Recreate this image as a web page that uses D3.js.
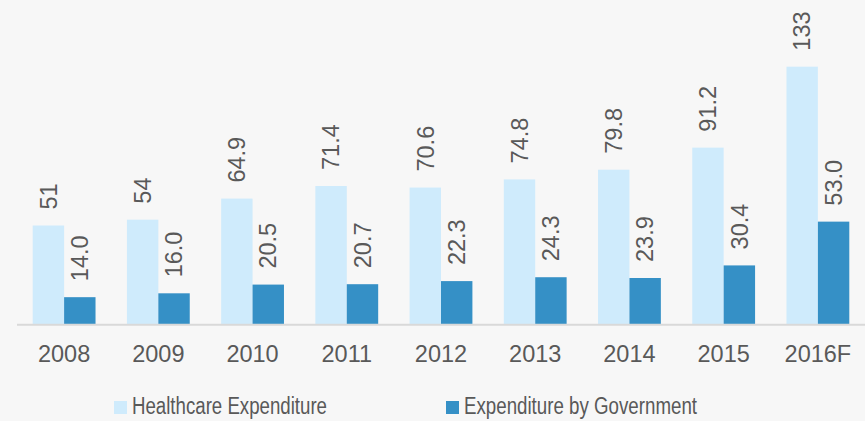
<!DOCTYPE html>
<html><head><meta charset="utf-8">
<script src="https://cdn.jsdelivr.net/npm/d3@7"></script>
<style>
html,body{margin:0;padding:0;background:#f7f7f7;}
svg{display:block;font-family:"Liberation Sans",Arial,Helvetica,sans-serif;}
</style></head>
<body><svg id="c" width="865" height="421"></svg>
<script>
const categories = ["2008","2009","2010","2011","2012","2013","2014","2015","2016F"];
const healthcare = [51, 54, 64.9, 71.4, 70.6, 74.8, 79.8, 91.2, 133];
const healthcareLabels = ["51","54","64.9","71.4","70.6","74.8","79.8","91.2","133"];
const government = [14.0, 16.0, 20.5, 20.7, 22.3, 24.3, 23.9, 30.4, 53.0];
const governmentLabels = ["14.0","16.0","20.5","20.7","22.3","24.3","23.9","30.4","53.0"];
const seriesNames = ["Healthcare Expenditure","Expenditure by Government"];
const colors = ["#cfebfc","#3590c6"];

const svg = d3.select("#c");
svg.append("rect").attr("width",865).attr("height",421).attr("fill","#f7f7f7");

const x = d3.scaleBand().domain(categories).range([17,865]).paddingInner(1/3).paddingOuter(1/6);
const x1 = d3.scaleBand().domain([0,1]).range([0,x.bandwidth()]);
const y = d3.scaleLinear().domain([0,140]).range([324.3,53.1]);

const series = [
  {vals: healthcare, labels: healthcareLabels},
  {vals: government, labels: governmentLabels}
];
const textColor = "#595959";

series.forEach((s,si)=>{
  const g = svg.append("g");
  g.selectAll("rect").data(categories).join("rect")
    .attr("x", (c)=>x(c)+x1(si))
    .attr("width", x1.bandwidth())
    .attr("y", (c,i)=>y(s.vals[i]))
    .attr("height", (c,i)=>y(0)-y(s.vals[i]))
    .attr("fill", colors[si]);
  g.selectAll("text").data(categories).join("text")
    .attr("transform",(c,i)=>`translate(${x(c)+x1(si)+x1.bandwidth()/2},${y(s.vals[i])-16}) rotate(-90)`)
    .attr("dy","0.35em")
    .attr("text-anchor","start")
    .attr("font-size",23.5)
    .attr("fill",textColor)
    .text((c,i)=>s.labels[i]);
});

// axis
const axis = d3.axisBottom(x).tickSize(0).tickPadding(0);
const ax = svg.append("g").attr("transform",`translate(0,${y(0)})`).call(axis);
ax.select(".domain").attr("stroke","#d9d9d9").attr("stroke-width",2).attr("d","M17,0.5H865");
ax.selectAll(".tick text").attr("font-size",23.5).attr("fill",textColor)
  .attr("font-family",'"Liberation Sans",Arial,sans-serif').attr("dy",null).attr("y",38);

// legend
const legendX = [114, 446];
const legendW = [195, 233];
const lg = svg.append("g");
seriesNames.forEach((n,i)=>{
  lg.append("rect").attr("x",legendX[i]).attr("y",401).attr("width",13).attr("height",13).attr("fill",colors[i]);
  lg.append("text").attr("x",legendX[i]+18).attr("y",414).attr("font-size",23)
    .attr("fill",textColor).attr("textLength",legendW[i]).attr("lengthAdjust","spacingAndGlyphs").text(n);
});
</script></body></html>
